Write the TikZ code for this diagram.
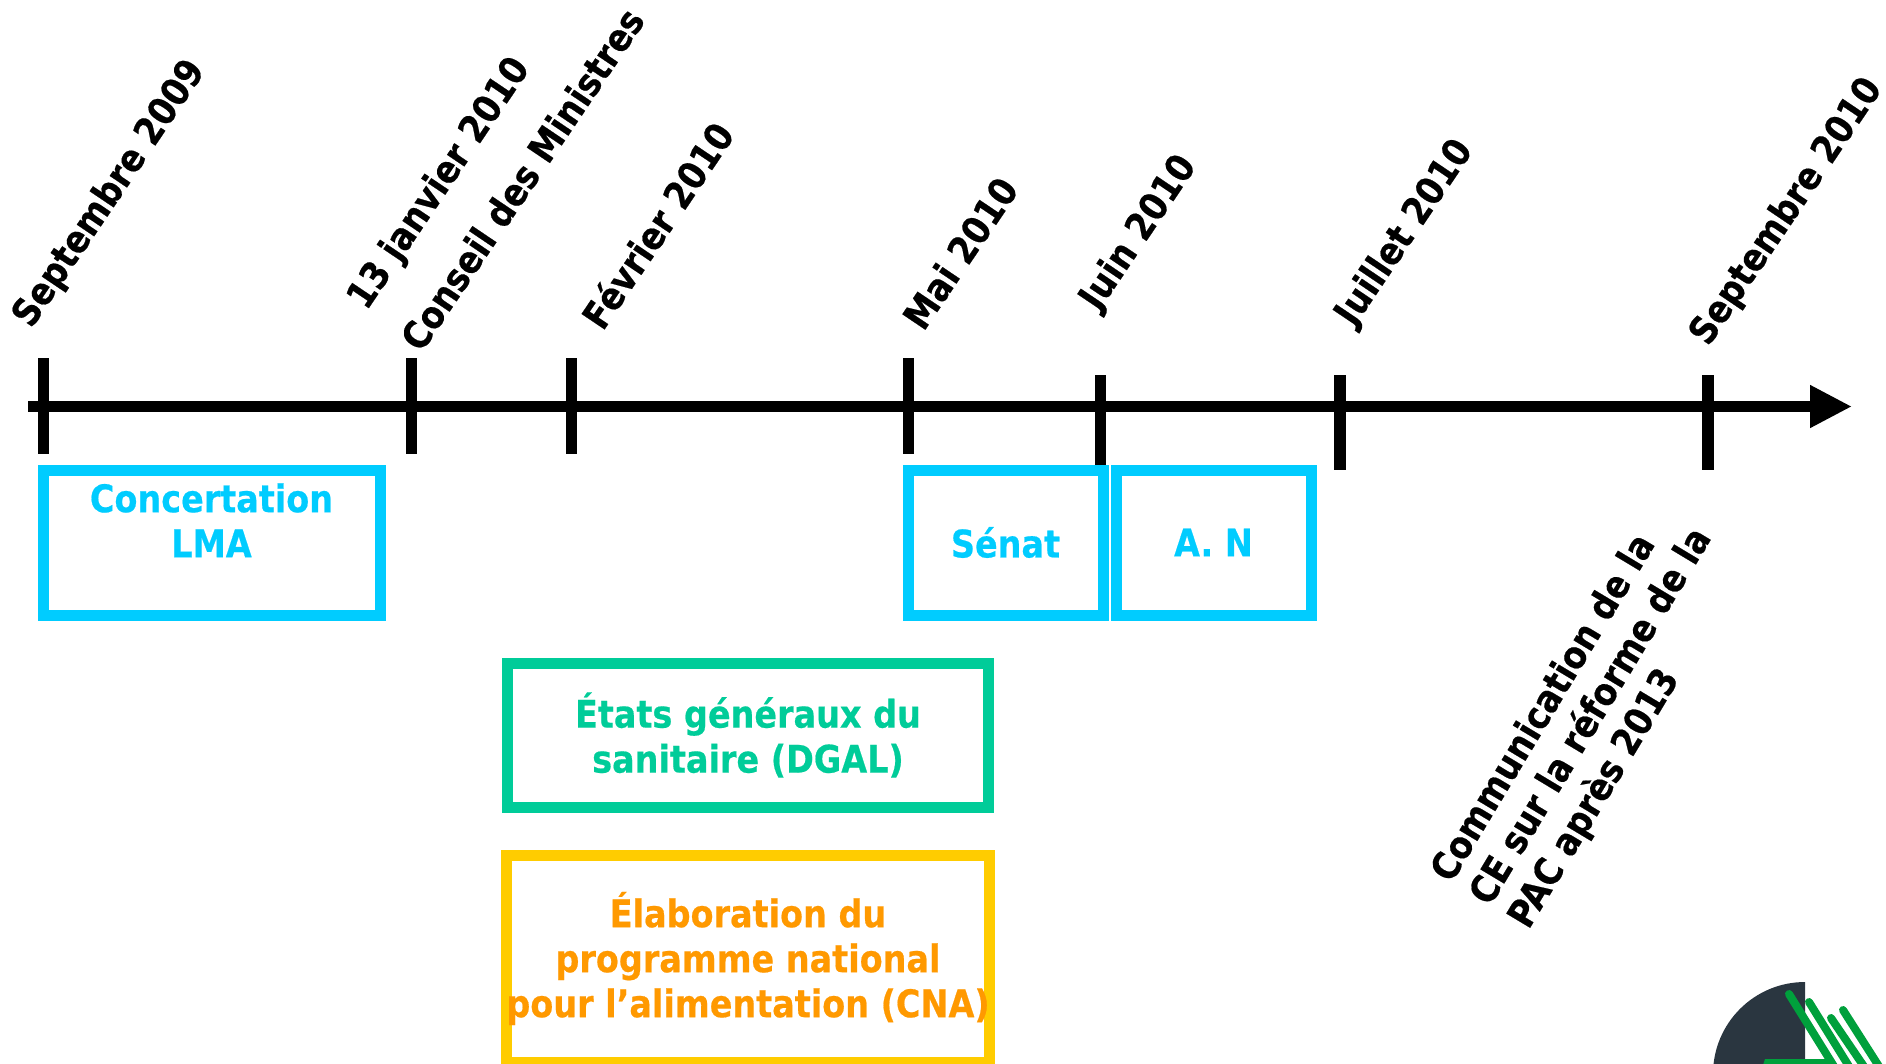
\documentclass[tikz,border=0pt]{standalone}
\usepackage{fontspec}
\setmainfont[FakeStretch=0.88,BoldFeatures={FakeStretch=0.88,FakeBold=0.5}]{DejaVu Sans}
\usetikzlibrary{arrows.meta}
\definecolor{cyanc}{HTML}{00CCFF}
\definecolor{greenc}{HTML}{00CC99}
\definecolor{yellowc}{HTML}{FFCC00}
\definecolor{orangec}{HTML}{FF9900}
\definecolor{logodark}{HTML}{2A3640}
\definecolor{logogreen}{HTML}{00A03C}
\newcommand{\bodyfont}{\fontsize{38}{45}\selectfont\bfseries}
\tikzset{
  x=1pt,y=-1pt,
  tick/.style={line width=11.5pt,black},
  axisline/.style={line width=11pt,black,-{Triangle[length=42pt,width=40pt]}},
  datelabel/.style={font=\bodyfont,rotate=56,inner sep=0pt,align=center,text=black},
  boxnode/.style={draw,line width=11pt,align=center,font=\bodyfont,inner sep=0pt,fill=white},
  cyanbox/.style={boxnode,draw=cyanc,text=cyanc},
  greenbox/.style={boxnode,draw=greenc,text=greenc},
  orangebox/.style={boxnode,draw=yellowc,text=orangec},
  logostripe/.style={logogreen,line width=8pt,line cap=round},
}
\begin{document}
\begin{tikzpicture}
\useasboundingbox (0,0) rectangle (1886,1063);
\clip (0,0) rectangle (1886,1063);
% axis
\coordinate (axisstart) at (28,406.5);
\coordinate (axisend) at (1852,406.5);
\draw[axisline] (axisstart) -- (axisend);
% ticks
\foreach \n/\tx/\ta/\tb in {t1/43.5/358/454,t2/411.5/358/454,t3/571.5/358/454,t4/908.5/358/454,t5/1100.5/375/467,t6/1340/375/470,t7/1708/375/470}{
  \coordinate (\n a) at (\tx,\ta);
  \coordinate (\n b) at (\tx,\tb);
  \draw[tick] (\n a) -- (\n b);
}
% date labels
\node[datelabel] (l1) at (110,194) {Septembre 2009};
\node[datelabel] (l2) at (440,184) {13 janvier 2010};
\node[datelabel] (l3) at (522,179) {Conseil des Ministres};
\node[datelabel] (l4) at (657,225) {Février 2010};
\node[datelabel] (l5) at (960,253) {Mai 2010};
\node[datelabel] (l6) at (1139,233) {Juin 2010};
\node[datelabel] (l7) at (1405,233) {Juillet 2010};
\node[datelabel] (l8) at (1787,212) {Septembre 2010};
\node[datelabel,rotate=3,align=left] (l9) at (1592,717) {Communication de la\\CE sur la réforme de la\\PAC après 2013};
% boxes
\node[cyanbox,minimum width=337pt,minimum height=145pt] (lma) at (211.5,542.5) {Concertation\\LMA\\[-14pt]\strut};
\node[cyanbox,minimum width=195pt,minimum height=145pt] (senat) at (1005.5,542.5) {Sénat};
\node[cyanbox,minimum width=195pt,minimum height=145pt] (an) at (1213.5,542.5) {A. N};
\node[greenbox,minimum width=481pt,minimum height=144pt] (dgal) at (748,735) {États généraux du\\sanitaire (DGAL)};
\node[orangebox,minimum width=481pt,minimum height=207pt] (cna) at (748,958.5) {Élaboration du\\programme national\\pour l’alimentation (CNA)};
% logo
\fill[logodark] (1805,982) arc[start angle=-90,end angle=-180,radius=92] -- (1805,1074) -- cycle;
\draw[logostripe] (1789,994) -- (1835,1068);
\draw[logostripe] (1809,1002) -- (1850,1068);
\draw[logostripe] (1831,1018) -- (1865,1068);
\draw[logostripe] (1843,1010) -- (1880,1068);
\fill[logogreen] (1762,1068) -- (1765,1059) -- (1825,1059) -- (1836,1068) -- cycle;
\end{tikzpicture}
\end{document}
